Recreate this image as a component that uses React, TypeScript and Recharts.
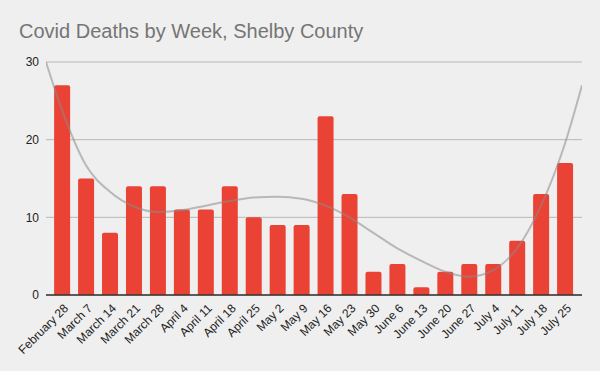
import { ComposedChart, Bar, Line, XAxis, YAxis, CartesianGrid, ReferenceLine, Rectangle } from 'recharts'

const WEEKS = [
  'February 28', 'March 7', 'March 14', 'March 21', 'March 28', 'April 4', 'April 11',
  'April 18', 'April 25', 'May 2', 'May 9', 'May 16', 'May 23', 'May 30', 'June 6',
  'June 13', 'June 20', 'June 27', 'July 4', 'July 11', 'July 18', 'July 25',
]

const DEATHS = [27, 15, 8, 14, 14, 11, 11, 14, 10, 9, 9, 23, 13, 3, 4, 1, 3, 4, 4, 7, 13, 17]

// trendline: plot edges plus every week
const X_MIN = -0.67
const X_MAX = 21.71
const TREND_X = [X_MIN, 0, 1, 2, 3, 4, 5, 6, 7, 8, 9, 10, 11, 12, 13, 14, 15, 16, 17, 18, 19, 20, 21, X_MAX]
const TREND = [30, 23.8, 16.7, 13.3, 11.4, 10.7, 10.9, 11.5, 12.1, 12.55, 12.65, 12.4, 11.5, 10.0, 8.0, 6.0, 4.4, 3.0, 2.35, 3.2, 6.0, 11.5, 19.5, 27]

const Y_TICKS = [0, 10, 20, 30]

const BAR_COLOR = '#ea4335'
const BAR_WIDTH = 16
const FONT = '"Liberation Sans", Arial, sans-serif'

const rows = TREND_X.map((x, i) => ({
  x,
  deaths: Number.isInteger(x) ? DEATHS[x] : undefined,
  trend: TREND[i],
}))

function BarShape(props: any) {
  const { x, y, width, height } = props
  if (!height) return null
  return (
    <Rectangle
      x={x + width / 2 - BAR_WIDTH / 2}
      y={y}
      width={BAR_WIDTH}
      height={height}
      radius={[2, 2, 0, 0]}
      fill={BAR_COLOR}
    />
  )
}

function WeekTick(props: any) {
  const { x, payload } = props
  const ax = x + 7
  const ay = 309
  return (
    <text
      x={ax}
      y={ay}
      transform={`rotate(-45, ${ax}, ${ay})`}
      textAnchor="end"
      fontSize={12}
      fill="#222222"
      fontFamily={FONT}
    >
      {WEEKS[payload.value]}
    </text>
  )
}

export default function App() {
  return (
    <div
      style={{
        position: 'absolute',
        left: 0,
        top: 0,
        width: 600,
        height: 371,
        background: '#efefef',
        fontFamily: FONT,
      }}
    >
      <div
        style={{
          position: 'absolute',
          left: 19,
          top: 19,
          fontSize: 20,
          color: '#757575',
          lineHeight: '24px',
          whiteSpace: 'nowrap',
        }}
      >
        Covid Deaths by Week, Shelby County
      </div>
      <ComposedChart
        width={600}
        height={371}
        data={rows}
        margin={{ top: 62, right: 18, bottom: 0, left: 0 }}
      >
        <CartesianGrid vertical={false} stroke="#b7b7b7" />
        <XAxis
          dataKey="x"
          type="number"
          domain={[X_MIN, X_MAX]}
          ticks={WEEKS.map((_, i) => i)}
          interval={0}
          height={76}
          tickLine={false}
          tick={<WeekTick />}
          axisLine={{ stroke: '#333333' }}
          allowDataOverflow
        />
        <YAxis
          domain={[0, 30]}
          ticks={Y_TICKS}
          width={46}
          axisLine={false}
          tickLine={false}
          tickSize={0}
          tickMargin={7}
          tick={{ fontSize: 12, fill: '#222222', fontFamily: FONT }}
        />
        <Bar
          dataKey="deaths"
          fill={BAR_COLOR}
          shape={<BarShape />}
          isAnimationActive={false}
        />
        <ReferenceLine y={0} stroke="#333333" />
        <Line
          dataKey="trend"
          type="monotone"
          stroke="#8a8a8a"
          strokeOpacity={0.55}
          strokeWidth={2}
          dot={false}
          activeDot={false}
          isAnimationActive={false}
        />
      </ComposedChart>
    </div>
  )
}
